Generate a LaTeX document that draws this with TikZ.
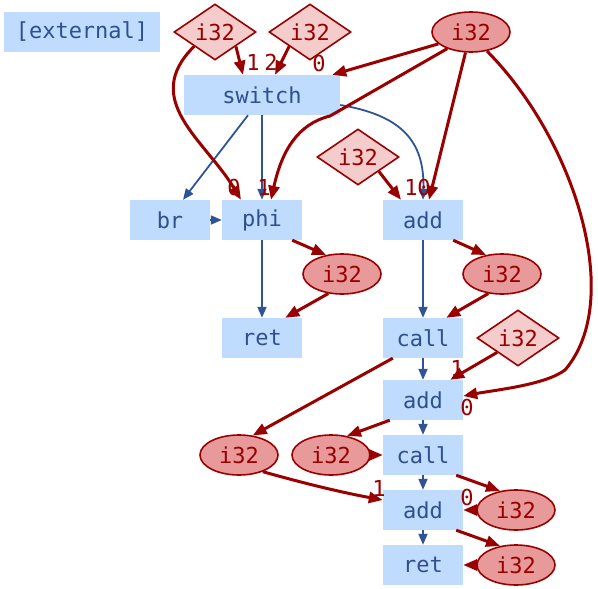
\documentclass[tikz,border=0pt]{standalone}
\usepackage{fontspec}
\setmonofont{DejaVu Sans Mono}
\usetikzlibrary{shapes.geometric,arrows.meta,calc}
\definecolor{boxfill}{RGB}{191,219,254}
\definecolor{boxtext}{RGB}{47,79,143}
\definecolor{dred}{RGB}{153,0,0}
\definecolor{dfill}{RGB}{245,204,204}
\definecolor{efill}{RGB}{232,154,154}
\definecolor{bline}{RGB}{47,84,150}
\begin{document}
\begin{tikzpicture}[x=1pt,y=-1pt,
 font=\ttfamily\fontsize{22}{26}\selectfont,
 opbox/.style={fill=boxfill, text=boxtext, minimum width=80pt, minimum height=40pt, inner sep=0pt},
 wide/.style={minimum width=156pt},
 cnst/.style={diamond, aspect=1.45, draw=dred, line width=1.6pt, fill=dfill, text=dred, minimum width=82pt, minimum height=56pt, inner sep=0pt},
 val/.style={ellipse, draw=dred, line width=1.6pt, fill=efill, text=dred, minimum width=78pt, minimum height=40pt, inner sep=0pt},
 dflow/.style={draw=dred, line width=3pt, -{Triangle[length=14pt,width=11pt]}},
 cflow/.style={draw=bline, line width=1.8pt, -{Triangle[length=11pt,width=9pt]}},
 lab/.style={text=dred, inner sep=0pt}
]
\useasboundingbox (0,0) rectangle (598,589);
% nodes
\node[opbox,wide] (ext) at (82,32) {[external]};
\node[cnst] (d1) at (215,32) {i32};
\node[cnst] (d2) at (310,32) {i32};
\node[val] (e1) at (471,32) {i32};
\node[opbox,wide] (sw) at (262,95) {switch};
\node[cnst] (dm) at (358,157) {i32};
\node[opbox] (br) at (170,220) {br};
\node[opbox] (ph) at (262,220) {phi};
\node[opbox] (a1) at (423,220) {add};
\node[val] (ep) at (342,274) {i32};
\node[val] (ea) at (502,274) {i32};
\node[opbox] (r1) at (262,338) {ret};
\node[opbox] (c1) at (423,338) {call};
\node[cnst] (dr) at (518,338) {i32};
\node[opbox] (a2) at (423,400) {add};
\node[val] (el) at (239,455) {i32};
\node[val] (em) at (331,455) {i32};
\node[opbox] (c2) at (423,455) {call};
\node[opbox] (a3) at (423,510) {add};
\node[val] (ex) at (516,510) {i32};
\node[opbox] (r2) at (423,565) {ret};
\node[val] (er) at (516,565) {i32};
% control flow
\draw[cflow] ($(sw.south)+(-14,0)$) -- ($(br.north)+(13,0)$);
\draw[cflow] (sw.south) -- (ph.north);
\draw[cflow] ($(sw.east)+(0,10)$) .. controls (400,115) and (425,140) .. (a1.north);
\draw[cflow] (br.east) -- (ph.west);
\draw[cflow] (ph.south) -- (r1.north);
\draw[cflow] (a1.south) -- (c1.north);
\draw[cflow] (c1.south) -- (a2.north);
\draw[cflow] (a2.south) -- (c2.north);
\draw[cflow] (c2.south) -- (a3.north);
\draw[cflow] (a3.south) -- (r2.north);
% data flow
\draw[dflow] (d1.south east) -- ($(sw.north)+(-19,0)$);
\draw[dflow] (d2.south west) -- ($(sw.north)+(13,0)$);
\draw[dflow] (e1.200) -- ($(sw.north east)+(-8,0)$);
\draw[dflow] (d1.south west) .. controls (140,100) and (205,140) .. ($(ph.north)+(-21,0)$);
\draw[dflow] (e1.215) -- (330,116) .. controls (298,124) and (282,150) .. ($(ph.north)+(9,0)$);
\draw[dflow] (e1.255) -- ($(a1.north)+(6,0)$);
\draw[dflow] (dm.south east) -- ($(a1.north)+(-22,0)$);
\draw[dflow] (e1.310) .. controls (575,140) and (625,300) .. (565,370) .. controls (545,385) and (495,390) .. ($(a2.east)+(0,-4)$);
\draw[dflow] ($(ph.south east)+(-10,0)$) -- (ep.130);
\draw[dflow] (ep.235) -- ($(r1.north east)+(-17,0)$);
\draw[dflow] ($(a1.south east)+(-10,0)$) -- (ea.130);
\draw[dflow] (ea.235) -- ($(c1.north east)+(-17,0)$);
\draw[dflow] ($(c1.south west)+(10,0)$) -- (el.55);
\draw[dflow] (dr.south west) -- ($(a2.north east)+(-13,0)$);
\draw[dflow] ($(a2.south west)+(7,0)$) -- (em.50);
\draw[dflow] (em.east) -- (c2.west);
\draw[dflow] ($(c2.south east)+(-7,0)$) -- (ex.130);
\draw[dflow] (ex.west) -- (a3.east);
\draw[dflow] (el.-35) .. controls (310,485) and (345,493) .. ($(a3.west)+(0,-10)$);
\draw[dflow] ($(a3.south east)+(-7,0)$) -- (er.130);
\draw[dflow] (er.west) -- (r2.east);
% port labels
\node[lab] (l1) at (253,62) {1};
\node[lab] (l2) at (271,62) {2};
\node[lab] (l3) at (319,63) {0};
\node[lab] (l4) at (234,187) {0};
\node[lab] (l5) at (264,187) {1};
\node[lab] (l6) at (411,187) {1};
\node[lab] (l7) at (424,187) {0};
\node[lab] (l8) at (457,368) {1};
\node[lab] (l9) at (467,407) {0};
\node[lab] (l10) at (467,497) {0};
\node[lab] (l11) at (379,488) {1};
\end{tikzpicture}
\end{document}
